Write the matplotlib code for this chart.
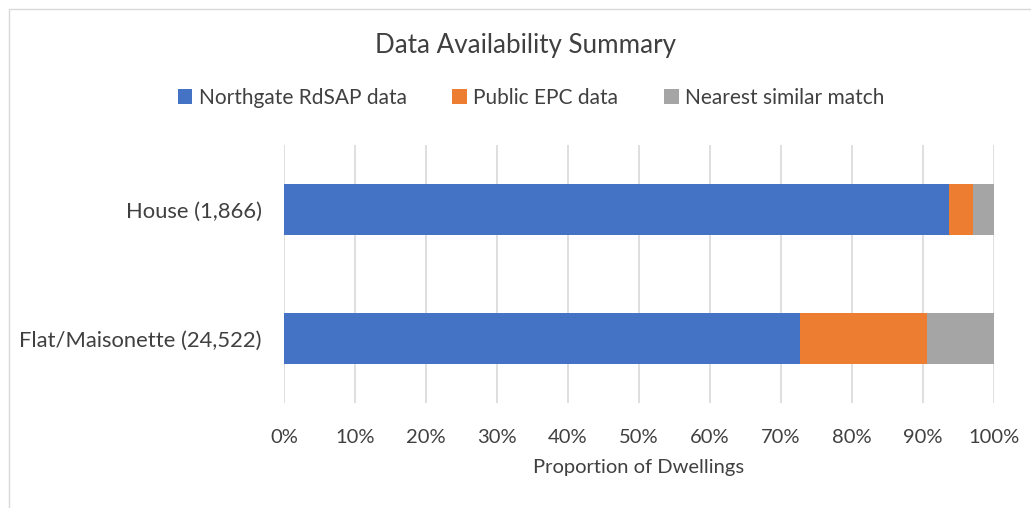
import matplotlib
matplotlib.use("Agg")
from matplotlib import pyplot as plt
from matplotlib.patches import Rectangle
from matplotlib.ticker import PercentFormatter

categories = ["House (1,866)", "Flat/Maisonette (24,522)"]
series_names = ["Northgate RdSAP data", "Public EPC data", "Nearest similar match"]
northgate = [93.7, 72.7]
public_epc = [3.3, 17.9]
nearest = [3.0, 9.4]
colors = ["#4472C4", "#ED7D31", "#A5A5A5"]

plt.rcParams["font.family"] = ["Lato", "DejaVu Sans"]
text_color = "#404040"

fig = plt.figure(figsize=[10.31, 5.08], dpi=100)
ax = fig.add_axes([0.2755, 0.2067, 0.6886, 0.5079])

y = list(range(len(categories)))
left = [0, 0]
for values, name, color in zip([northgate, public_epc, nearest], series_names, colors):
  ax.barh(y, values, left=left, height=0.395, color=color, label=name, zorder=3)
  left = [a + b for a, b in zip(left, values)]

ax.set_xlim(0, 100)
ax.set_ylim(1.5, -0.5)
ax.set_yticks(y)
ax.set_yticklabels(categories)
ax.set_xticks(range(0, 101, 10))
ax.xaxis.set_major_formatter(PercentFormatter(decimals=0))
ax.grid(axis="x", color="#D9D9D9", lw=1.2, zorder=0)
for s in ax.spines.values():
  s.set_visible(False)
ax.tick_params(axis="x", length=0, labelsize=14.5, colors=text_color, pad=19)
ax.tick_params(axis="y", length=0, labelsize=15.8, colors=text_color, pad=16)
ax.set_xlabel("Proportion of Dwellings", fontsize=14.5, color=text_color, labelpad=9)

fig.text(0.51, 0.91, "Data Availability Summary", ha="center", va="center", fontsize=18.7, color=text_color)
fig.legend(loc="center", bbox_to_anchor=(0.515, 0.808), ncol=3, frameon=False, fontsize=15,
           handlelength=0.7, handleheight=0.7, handletextpad=0.3, columnspacing=2.2,
           labelcolor=text_color)

fig.patches.append(Rectangle((0.009, -0.01), 1.0, 0.992, transform=fig.transFigure,
                             fill=False, edgecolor="#D9D9D9", lw=1))

plt.savefig("out.png")
